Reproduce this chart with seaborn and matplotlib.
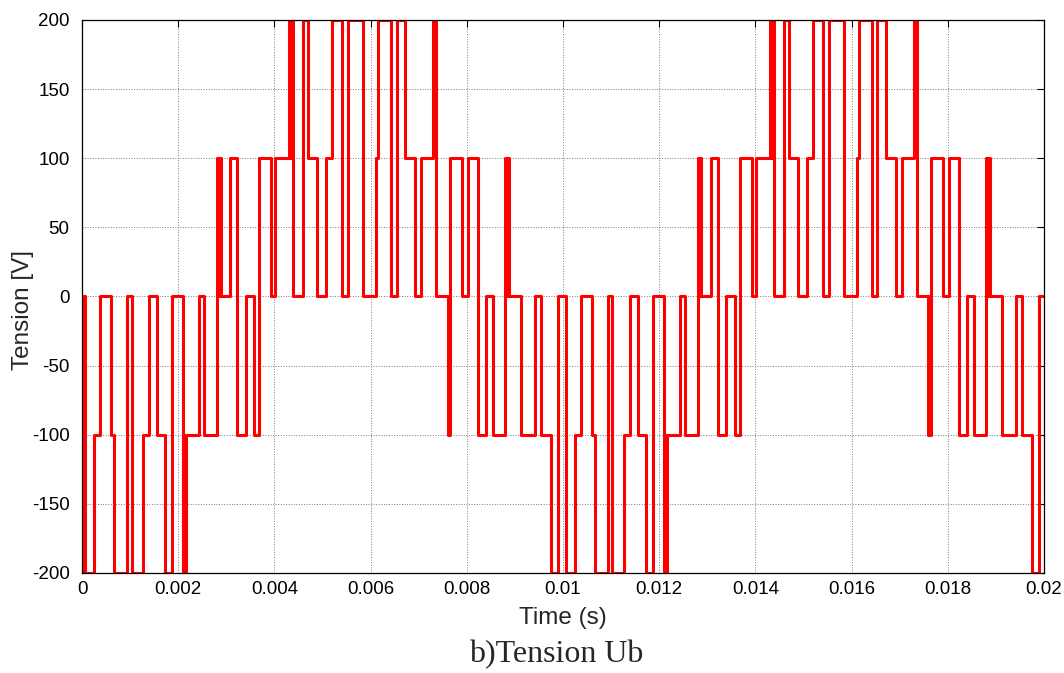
import numpy as np
import pandas as pd
import matplotlib
matplotlib.use("Agg")
import matplotlib.pyplot as plt
import seaborn as sns

# step points: time in ms where the level changes, level after it (V)
t_ms = [
    0.0, 0.005, 0.07, 0.25, 0.37, 0.61, 0.66, 0.94, 1.03, 1.27, 1.39, 1.56, 1.73, 1.87,
    2.10, 2.13, 2.14, 2.16, 2.43, 2.54, 2.80, 2.83, 2.85, 2.88, 3.08, 3.22, 3.40, 3.58,
    3.68, 3.93, 4.01, 4.30, 4.33, 4.35, 4.39, 4.59, 4.70, 4.89, 5.07, 5.19, 5.41, 5.54,
    5.85, 6.11, 6.16, 6.42, 6.54, 6.72, 6.92, 7.05, 7.30, 7.37, 7.60, 7.62, 7.63, 7.65,
    7.91, 8.03, 8.24, 8.41, 8.55, 8.79, 8.82, 8.84, 8.88, 9.13, 9.42, 9.54, 9.76, 9.89,
    10.07, 10.25, 10.37, 10.61, 10.66, 10.94, 11.03, 11.27, 11.39, 11.56, 11.73, 11.87,
    12.10, 12.13, 12.14, 12.16, 12.43, 12.54, 12.80, 12.83, 12.85, 12.88, 13.08, 13.22,
    13.40, 13.58, 13.68, 13.93, 14.01, 14.30, 14.33, 14.35, 14.39, 14.59, 14.70, 14.89,
    15.07, 15.19, 15.41, 15.54, 15.85, 16.11, 16.16, 16.42, 16.54, 16.72, 16.92, 17.05,
    17.30, 17.37, 17.60, 17.62, 17.63, 17.65, 17.91, 18.03, 18.24, 18.41, 18.55, 18.79,
    18.82, 18.84, 18.88, 19.13, 19.42, 19.54, 19.76, 19.89, 20.0,
]
u_b = [
    -200, 0, -200, -100, 0, -100, -200, 0, -200, -100, 0, -100, -200, 0,
    -200, -100, -200, -100, 0, -100, 100, 0, 100, 0, 100, -100, 0, -100,
    100, 0, 100, 200, 100, 200, 0, 200, 100, 0, 100, 200, 0, 200,
    0, 100, 200, 0, 200, 100, 0, 100, 200, 0, -100, 0, -100, 100,
    0, 100, -100, 0, -100, 100, 0, 100, 0, -100, 0, -100, -200, 0,
    -200, -100, 0, -100, -200, 0, -200, -100, 0, -100, -200, 0,
    -200, -100, -200, -100, 0, -100, 100, 0, 100, 0, 100, -100,
    0, -100, 100, 0, 100, 200, 100, 200, 0, 200, 100, 0,
    100, 200, 0, 200, 0, 100, 200, 0, 200, 100, 0, 100,
    200, 0, -100, 0, -100, 100, 0, 100, -100, 0, -100, 100,
    0, 100, 0, -100, 0, -100, -200, 0, 0,
]

x_ticks = [0, 0.002, 0.004, 0.006, 0.008, 0.01, 0.012, 0.014, 0.016, 0.018, 0.02]
x_labels = ["0", "0.002", "0.004", "0.006", "0.008", "0.01", "0.012", "0.014",
            "0.016", "0.018", "0.02"]
y_ticks = [-200, -150, -100, -50, 0, 50, 100, 150, 200]

df = pd.DataFrame({"t": np.array(t_ms) / 1000.0, "u": u_b})

sns.set_style("white")
plt.rcParams["font.family"] = ["Liberation Sans", "DejaVu Sans"]
plt.rcParams["axes.unicode_minus"] = False

fig = plt.figure(figsize=(10.64, 6.73), dpi=100)
ax = fig.add_axes([0.0771, 0.1486, 0.904, 0.8217])

sns.lineplot(data=df, x="t", y="u", ax=ax, color="#ff0000", linewidth=2.2,
             estimator=None, sort=False, drawstyle="steps-post")

ax.set_xlim(0, 0.02)
ax.set_ylim(-200, 200)
ax.set_xticks(x_ticks)
ax.set_xticklabels(x_labels)
ax.set_yticks(y_ticks)
ax.tick_params(direction="in", length=5, width=0.8, top=True, right=True,
               labelsize=13.5, colors="black")
ax.tick_params(axis="x", pad=6)
ax.tick_params(axis="y", pad=9)
ax.grid(True, linestyle=":", color="#7a7a7a", linewidth=0.7)
for s in ax.spines.values():
    s.set_color("black")
    s.set_linewidth(0.9)

ax.set_xlabel("Time (s)", fontsize=17.5)
ax.set_ylabel("Tension [V]", fontsize=17.5)
ax.xaxis.set_label_coords(0.5, -0.062)
ax.yaxis.set_label_coords(-0.05, 0.475)

fig.text(0.5226, 0.027, "b)Tension Ub", family="Liberation Serif", fontsize=23,
         ha="center", va="center")

fig.savefig("out.png", dpi=100)
